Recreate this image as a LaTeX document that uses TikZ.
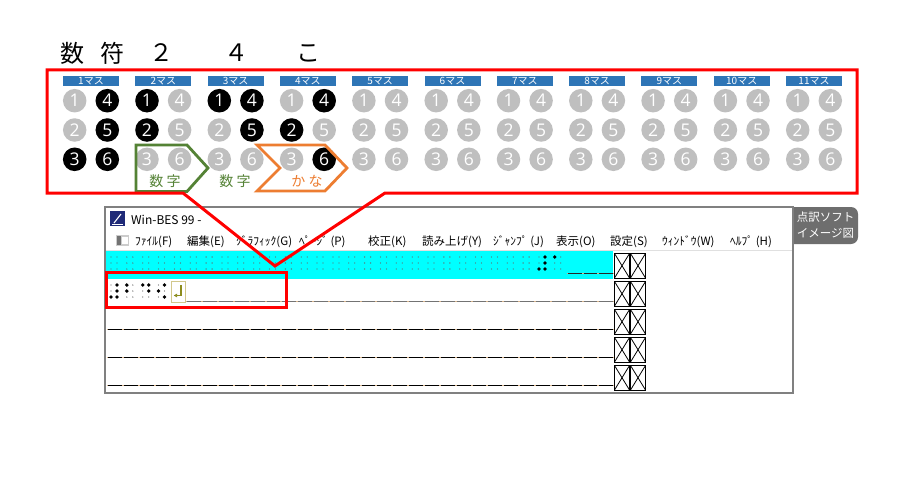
\documentclass[tikz,border=0pt]{standalone}
\usepackage{fontspec}
\usetikzlibrary{arrows.meta}
\setmainfont{Open Sans}
\newfontfamily\jp{Noto Sans CJK JP}
\definecolor{cellblue}{HTML}{2E75B6}
\definecolor{dotgray}{HTML}{BFBFBF}
\definecolor{kgreen}{HTML}{548235}
\definecolor{korange}{HTML}{ED7D31}
\definecolor{wingray}{HTML}{808080}
\definecolor{tabgray}{HTML}{6E6E6E}
\definecolor{aqua}{HTML}{00FFFF}
\definecolor{oliv}{HTML}{8C8C1E}
\definecolor{khaki}{HTML}{D2C88C}
\definecolor{tanline}{HTML}{D8B48C}
\definecolor{navyicon}{HTML}{1F2A78}
\definecolor{redline}{HTML}{FF0000}
\tikzset{
  hdr/.style={font=\jp\fontsize{24}{24}\selectfont, inner sep=0pt},
  dotg/.style={circle, fill=dotgray, minimum size=23.5pt, inner sep=0pt, text=white, font=\fontsize{17.5}{17.5}\selectfont},
  dotb/.style={dotg, fill=black},
  barlbl/.style={font=\jp\fontsize{10}{10}\selectfont, text=white, inner sep=0pt},
  klbl/.style={font=\jp\fontsize{14}{14}\selectfont, inner sep=0pt},
  menu/.style={font=\jp\fontsize{11.5}{11.5}\selectfont, anchor=west, inner sep=0pt},
  tabtxt/.style={font=\jp\fontsize{11.5}{11.5}\selectfont, text=white, inner sep=0pt},
  faint/.style={fill=black!60},
  callout/.style={draw=redline, line width=3pt, line join=miter},
}
\newcommand\myfaintcell[2]{%
  \foreach \d in {1,...,6}{%
    \pgfmathsetmacro\bx{#1+(\d<4?4:10)}%
    \pgfmathsetmacro\by{#2+6*mod(\d-1,3)}%
    \fill[faint] (\bx,\by) circle (0.65pt);
  }}
\newcommand\myboldcell[3]{%
  \foreach \d in {#3}{%
    \pgfmathsetmacro\bx{#1+(\d<4?4:10)}%
    \pgfmathsetmacro\by{#2+6*mod(\d-1,3)}%
    \fill[black] (\bx,\by) circle (1.9pt);
  }}
\newcommand\mydashrow[4]{%
  \draw[tanline, line width=1.4pt] ({107+15.85*#2},#1) -- ({107+15.85*(#3+1)},#1);
  \foreach \k in {#2,...,#3}{%
    \draw[#4, line width=1.4pt] ({107+15.85*\k+1},#1) -- ({107+15.85*(\k+1)-1},#1);
  }}
\begin{document}
\begin{tikzpicture}[x=1pt,y=-1pt]
\useasboundingbox[fill=white] (0,0) rectangle (902,503);

% headers
\node[hdr] (h1) at (72.5,53) {数};
\node[hdr] (h2) at (112.5,53) {符};
\node[hdr] (h3) at (161.5,53) {２};
\node[hdr] (h4) at (236.5,53) {４};
\node[hdr] (h5) at (308.5,53) {こ};

% braille cells
\foreach \i in {1,...,11}{
  \pgfmathsetmacro\cx{91+72.3*(\i-1)}
  \fill[cellblue] (\cx-28,76) rectangle (\cx+28,86);
  \node[barlbl] (lbl\i) at (\cx,81.3) {\i マス};
  \foreach \d/\dx/\dy in {1/-16.3/100.7,2/-16.3/130,3/-16.3/159.3,4/+16.3/100.7,5/+16.3/130,6/+16.3/159.3}
    \node[dotg] (c\i-\d) at (\cx\dx,\dy) {\d};
}
\foreach \i/\l in {1/{3,4,5,6},2/{1,2},3/{1,4,5},4/{2,4,6}}{
  \foreach \d in \l
    \node[dotb] (cb\i-\d) at (c\i-\d) {\d};
}

% green pentagon and orange chevron
\draw[kgreen, line width=2.8pt, line join=miter] (136,145) -- (187,145) -- (208,168) -- (187,191.5) -- (136,191.5) -- cycle;
\draw[korange, line width=2.8pt, line join=miter] (257,145) -- (325,145) -- (347,168) -- (325,191) -- (257,191) -- (280,168) -- cycle;
\node[klbl, text=kgreen] (g1) at (165,181) {数 字};
\node[klbl, text=kgreen] (g2) at (235,181) {数 字};
\node[klbl, text=korange] (o1) at (307,181) {か な};

% window
\begin{scope}
  \clip (793,200) rectangle (870,250);
  \fill[tabgray, rounded corners=7pt] (780,207) rectangle (858,244);
\end{scope}
\node[tabtxt] (t1) at (825.5,217) {点訳ソフト};
\node[tabtxt] (t2) at (825.5,233.5) {イメージ図};
\draw[wingray, line width=2pt] (105,207) rectangle (793,393);

% title bar
\fill[navyicon] (110,211) rectangle (125,226);
\draw[white, line width=1.1pt] (114,223) -- (121,214);
\draw[white, line width=0.6pt] (112,224) -- (123,224);
\node[menu, font=\jp\fontsize{12}{12}\selectfont] (title) at (131,219.5) {Win-BES 99 -};

% menu
\fill[black!20] (116,235) rectangle (129,246);
\fill[black!55] (117,236) rectangle (121,245);
\fill[white] (122,237) rectangle (128,244);
\node[menu] (m1) at (135,241.5) {ﾌｧｲﾙ(F)};
\node[menu] (m2) at (187,241.5) {編集(E)};
\node[menu] (m3) at (236,241.5) {ｸﾞﾗﾌｨｯｸ(G)};
\node[menu] (m4) at (299,241.5) {ﾍﾟｰｼﾞ (P)};
\node[menu] (m5) at (368,241.5) {校正(K)};
\node[menu] (m6) at (422,241.5) {読み上げ(Y)};
\node[menu] (m7) at (493,241.5) {ｼﾞｬﾝﾌﾟ (J)};
\node[menu] (m8) at (556,241.5) {表示(O)};
\node[menu] (m9) at (610,241.5) {設定(S)};
\node[menu] (m10) at (662,241.5) {ｳｨﾝﾄﾞｳ(W)};
\node[menu] (m11) at (730,241.5) {ﾍﾙﾌﾟ (H)};
\draw[black!12, line width=0.8pt] (106,250.5) -- (792,250.5);

% line 1 (cyan)
\fill[aqua] (106,251) rectangle (613,279);
\foreach \k in {0,...,28}{ \pgfmathsetmacro\sx{107+15.85*\k} \myfaintcell{\sx}{257} }
\myboldcell{534.95}{257}{3,4,5,6}
\myboldcell{550.8}{257}{1}
\mydashrow{273.5}{29}{31}{black!85}

% line 2
\foreach \k in {0,...,3}{ \pgfmathsetmacro\sx{107+15.85*\k} \myfaintcell{\sx}{285} }
\myboldcell{107}{285}{3,4,5,6}
\myboldcell{122.85}{285}{1,2}
\myboldcell{138.7}{285}{1,4,5}
\myboldcell{154.55}{285}{2,4,6}
\draw[khaki, line width=1pt] (171,281.5) rectangle (185,302);
\draw[oliv, line width=1.3pt, -{Latex[length=3.5pt,width=4pt]}] (181,285) -- (181,295.5) -- (173.5,295.5);
\mydashrow{301.5}{5}{31}{black!55}

% lines 3-5
\mydashrow{329.5}{0}{31}{black}
\mydashrow{357.5}{0}{31}{black}
\mydashrow{385.5}{0}{31}{black}

% XX boxes
\foreach \t in {251,279,307,335,363}{
  \foreach \bx in {614.5,630.5}{
    \draw[black, line width=0.8pt] (\bx,\t+2.5) rectangle (\bx+15,\t+27);
    \draw[black, line width=0.8pt] (\bx,\t+2.5) -- (\bx+15,\t+27) (\bx+15,\t+2.5) -- (\bx,\t+27);
  }
}

% red frames
\draw[callout] (106,272) rectangle (286,307);
\draw[callout] (47,70) -- (857,70) -- (857,193) -- (385,193) -- (275,266) -- (183,193) -- (47,193) -- cycle;
\end{tikzpicture}
\end{document}
